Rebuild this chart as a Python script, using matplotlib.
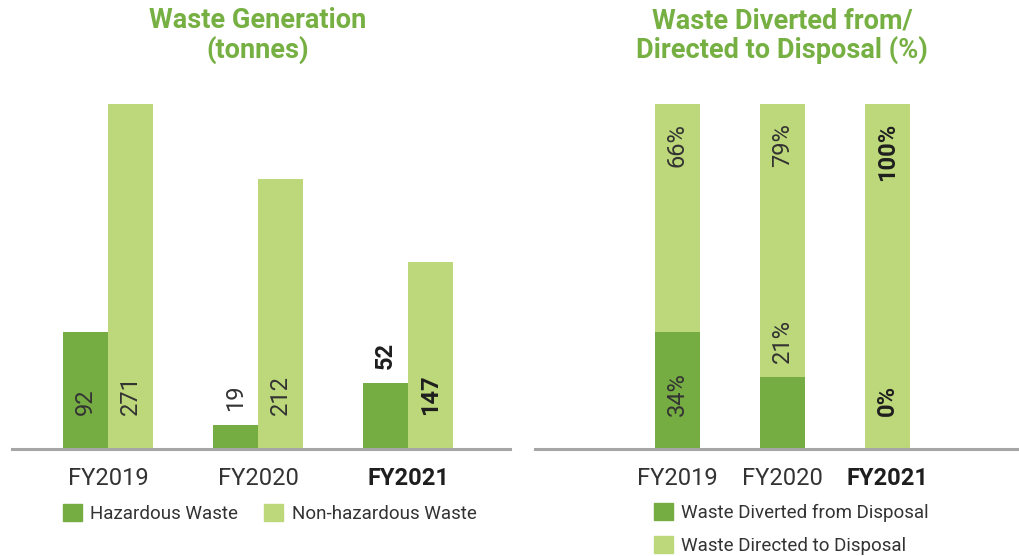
import matplotlib
matplotlib.use("Agg")
import numpy as np
from matplotlib import pyplot as plt
from matplotlib.patches import Patch

plt.rcParams['font.family'] = ['Roboto', 'DejaVu Sans']

# ---- data ----
years = ["FY2019", "FY2020", "FY2021"]
hazardous = [92, 19, 52]
non_hazardous = [271, 212, 147]

diverted_pct = [34, 21, 0]
directed_pct = [66, 79, 100]

bold_year = "FY2021"

dark_green = "#76ad43"
light_green = "#bdd87a"
title_green = "#76b043"
axis_grey = "#a6a6a6"
text_grey = "#333333"

W, H = 1020, 556
fig = plt.figure(figsize=(W / 100, H / 100), dpi=100)


def px(x0, y_top, x1, y_bottom):
    # pixel box -> figure rect
    return [x0 / W, 1 - y_bottom / H, (x1 - x0) / W, (y_bottom - y_top) / H]


def style_axes(ax):
    for s in ["top", "right", "left"]:
        ax.spines[s].set_visible(False)
    ax.spines["bottom"].set_color(axis_grey)
    ax.spines["bottom"].set_linewidth(2.2)
    ax.set_yticks([])
    ax.tick_params(axis="x", length=0, pad=13)


def label_style(year):
    if year == bold_year:
        return dict(fontweight="bold", color="#1e1e1e")
    return dict(fontweight="normal", color=text_grey)


def style_ticks(ax):
    ax.set_xticks(x)
    ax.set_xticklabels(years, fontsize=17)
    for t, y in zip(ax.get_xticklabels(), years):
        t.set_fontweight("bold" if y == bold_year else "normal")
        t.set_color("#1e1e1e" if y == bold_year else text_grey)


x = np.arange(len(years))

# ---- left: waste generation ----
ax1 = fig.add_axes(px(12, 104, 510, 449))
bw = 0.3
ax1.bar(x - bw / 2, hazardous, bw, color=dark_green)
ax1.bar(x + bw / 2, non_hazardous, bw, color=light_green)
ax1.set_xlim(-0.64, 2.68)
ax1.set_ylim(0, max(non_hazardous))
style_axes(ax1)
style_ticks(ax1)

px_per_unit = 345 / max(non_hazardous)
for i, y in enumerate(years):
    for xpos, v in [(x[i] - bw / 2, hazardous[i]), (x[i] + bw / 2, non_hazardous[i])]:
        if v * px_per_unit > 80:
            ax1.annotate(str(v), (xpos, 0), xytext=(0, 34), textcoords="offset pixels",
                         rotation=90, ha="center", va="bottom", fontsize=17,
                         **label_style(y))
        else:
            ax1.annotate(str(v), (xpos, v), xytext=(0, 14), textcoords="offset pixels",
                         rotation=90, ha="center", va="bottom", fontsize=17,
                         annotation_clip=False, **label_style(y))

fig.text(258 / W, 1 - 7 / H, "Waste Generation\n(tonnes)",
         ha="center", va="top", fontsize=19.5, fontweight="bold", color=title_green,
         linespacing=1.1)

leg1 = ax1.legend(handles=[Patch(color=dark_green, label="Hazardous Waste"),
                           Patch(color=light_green, label="Non-hazardous Waste")],
                  loc="upper left", bbox_to_anchor=(63 / W, 1 - 504 / H),
                  bbox_transform=fig.transFigure, ncol=2, frameon=False,
                  fontsize=13.5, handlelength=1.0, handleheight=1.0,
                  handletextpad=0.45, columnspacing=1.4, borderpad=0, borderaxespad=0)
for t in leg1.get_texts():
    t.set_color(text_grey)

# ---- right: diverted / directed ----
ax2 = fig.add_axes(px(535, 104, 1020, 449))
bw2 = 45 / 105
ax2.bar(x, diverted_pct, bw2, color=dark_green)
ax2.bar(x, directed_pct, bw2, bottom=diverted_pct, color=light_green)
ax2.set_xlim(-1.357, 3.262)
ax2.set_ylim(0, 100)
style_axes(ax2)
style_ticks(ax2)

px_per_pct = 345 / 100
for i, y in enumerate(years):
    d = diverted_pct[i]
    seg = d * px_per_pct
    if 0 < seg < 90:
        ax2.annotate(f"{d}%", (x[i], d), xytext=(0, 14), textcoords="offset pixels",
                     rotation=90, ha="center", va="bottom", fontsize=17, **label_style(y))
    else:
        ax2.annotate(f"{d}%", (x[i], 0), xytext=(0, 33), textcoords="offset pixels",
                     rotation=90, ha="center", va="bottom", fontsize=17, **label_style(y))
    top = diverted_pct[i] + directed_pct[i]
    ax2.annotate(f"{directed_pct[i]}%", (x[i], top), xytext=(0, -19),
                 textcoords="offset pixels", rotation=90, ha="center", va="top",
                 fontsize=17, **label_style(y))

fig.text(782 / W, 1 - 7 / H, "Waste Diverted from/\nDirected to Disposal (%)",
         ha="center", va="top", fontsize=19.5, fontweight="bold", color=title_green,
         linespacing=1.1)

leg2 = ax2.legend(handles=[Patch(color=dark_green, label="Waste Diverted from Disposal"),
                           Patch(color=light_green, label="Waste Directed to Disposal")],
                  loc="upper left", bbox_to_anchor=(654 / W, 1 - 503 / H),
                  bbox_transform=fig.transFigure, ncol=1, frameon=False,
                  fontsize=13.5, handlelength=1.0, handleheight=1.0,
                  handletextpad=0.45, labelspacing=0.75, borderpad=0, borderaxespad=0)
for t in leg2.get_texts():
    t.set_color(text_grey)

fig.savefig("out.png", dpi=100)
